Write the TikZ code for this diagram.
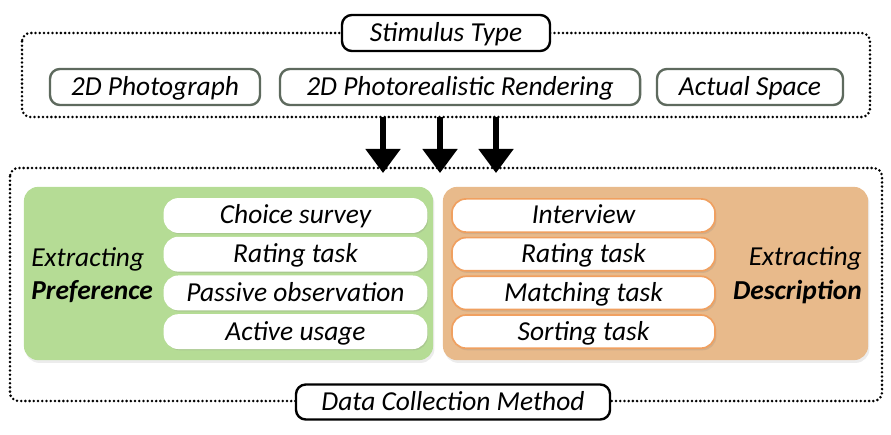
\documentclass[tikz,border=0pt]{standalone}
\usepackage{fontspec}
\setmainfont{Carlito}
\usepackage{xcolor}
\usetikzlibrary{arrows.meta,positioning,shadows}
\definecolor{leaf}{HTML}{B5DC95}
\definecolor{peach}{HTML}{E8BA8B}
\definecolor{tangerine}{HTML}{F0A060}
\definecolor{slate}{HTML}{5E6A5E}
\tikzset{
  titlebox/.style={
    rectangle, rounded corners=7pt, draw=black, fill=white, line width=1.7pt,
    minimum height=0.9cm, font=\fontsize{19.5}{23}\selectfont\itshape,
    text height=14pt, text depth=2pt, inner sep=1pt
  },
  stimbox/.style={
    rectangle, rounded corners=7pt, draw=slate, fill=white, line width=1.7pt,
    minimum height=0.9cm, font=\fontsize{19.5}{23}\selectfont\itshape,
    text height=14pt, text depth=2pt, inner sep=1pt
  },
  groupbox/.style={
    rectangle, rounded corners=10pt, draw=none, fill=#1,
    minimum width=10.3cm, minimum height=4.33cm,
    drop shadow={opacity=0.15, shadow xshift=1pt, shadow yshift=-2pt}
  },
  groupbox/.default=leaf,
  methodbox/.style={
    rectangle, rounded corners=10pt, draw=#1, fill=white, line width=1.2pt,
    minimum width=6.55cm, minimum height=0.83cm,
    font=\fontsize{19.5}{23}\selectfont\itshape,
    text height=14pt, text depth=2pt, inner sep=0pt,
    drop shadow={opacity=0.2, shadow xshift=1pt, shadow yshift=-1.5pt}
  },
  methodbox/.default=white,
  sidelabel/.style={
    font=\fontsize{19.5}{24}\selectfont\itshape, inner sep=0pt
  },
  dotframe/.style={
    line width=2pt, dash pattern=on 0pt off 3pt, line cap=round,
    rounded corners=6pt
  },
  flowarrow/.style={
    -{Triangle[width=0.85cm,length=0.6cm]}, line width=3.6pt
  },
}
\begin{document}
\begin{tikzpicture}[x=0.025cm,y=-0.025cm]
  \useasboundingbox (0,0) rectangle (891,434);
  % Stimulus type frame
  \draw[dotframe] (22,33) rectangle (870,117);
  \node[titlebox, minimum width=5.2cm] (stim) at (446,33) {Stimulus Type};
  \node[stimbox, minimum width=5.25cm] (photo) at (155,87) {2D Photograph};
  \node[stimbox, minimum width=9.0cm] (render) at (460,87) {2D Photorealistic Rendering};
  \node[stimbox, minimum width=4.65cm] (space) at (750,87) {Actual Space};
  % Data collection frame
  \draw[dotframe] (10,168) rectangle (882,401);
  \node[groupbox, minimum width=10.225cm] (pref) at (228.5,273.5) {};
  \node[groupbox=peach, minimum width=10.625cm] (desc) at (655.5,273.5) {};
  \node[titlebox, minimum width=7.85cm, minimum height=0.875cm] (dcm) at (453,402) {Data Collection Method};
  % Arrows
  \coordinate (a1) at (383,117);
  \coordinate (a2) at (440,117);
  \coordinate (a3) at (496,117);
  \foreach \a in {a1,a2,a3}
    \draw[flowarrow] (\a) -- ++(0,56);
  % Preference methods
  \node[methodbox] (choice) at (295.5,215.5) {Choice survey};
  \node[methodbox] (prate) at (295.5,254.2) {Rating task};
  \node[methodbox] (passive) at (295.5,292.9) {Passive observation};
  \node[methodbox] (active) at (295.5,331.6) {Active usage};
  \node[sidelabel, anchor=west, align=left] (preflbl) at (31,275) {Extracting\\\textbf{Preference}};
  % Description methods
  \node[methodbox=tangerine, minimum width=6.575cm] (interview) at (583.5,215.5) {Interview};
  \node[methodbox=tangerine, minimum width=6.575cm] (drate) at (583.5,254.2) {Rating task};
  \node[methodbox=tangerine, minimum width=6.575cm] (match) at (583.5,292.9) {Matching task};
  \node[methodbox=tangerine, minimum width=6.575cm] (sort) at (583.5,331.6) {Sorting task};
  \node[sidelabel, anchor=east, align=right] (desclbl) at (862,275) {Extracting\\\textbf{Description}};
\end{tikzpicture}
\end{document}
